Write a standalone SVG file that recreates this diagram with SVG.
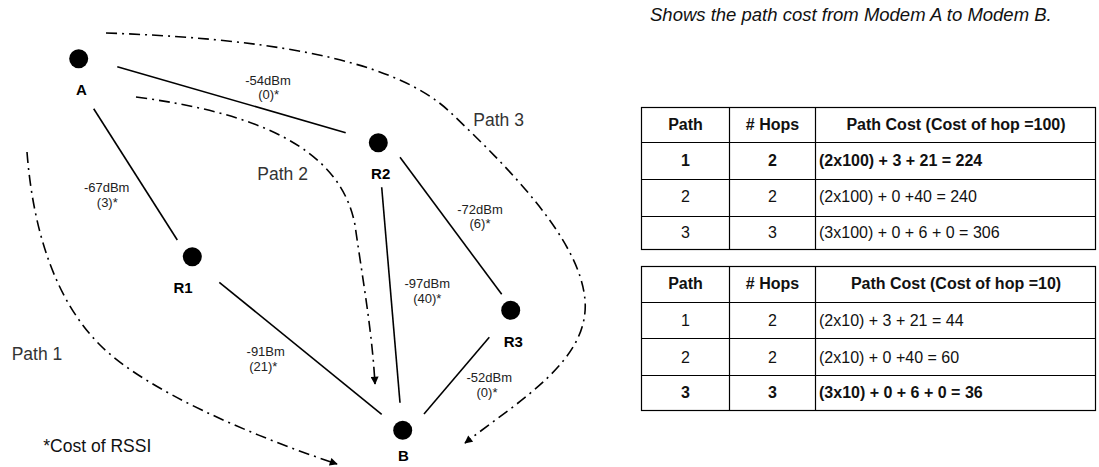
<svg xmlns="http://www.w3.org/2000/svg" width="1099" height="467" viewBox="0 0 1099 467">
<style>
.edge{stroke:#000;stroke-width:1.6;fill:none}
.path{stroke:#000;stroke-width:1.6;fill:none;stroke-dasharray:11,5,2,5}
.node{fill:#000}
.nl{font-family:"Liberation Sans",Arial,sans-serif;font-weight:bold;font-size:15px;fill:#000;text-anchor:middle}
.el{font-family:"Liberation Sans",Arial,sans-serif;font-size:13px;fill:#222;text-anchor:middle}
.pl{font-family:"Liberation Sans",Arial,sans-serif;font-size:17.5px;fill:#333}
.tl{stroke:#000;stroke-width:1.2;fill:none}
.th{font-family:"Liberation Sans",Arial,sans-serif;font-size:16px;font-weight:bold;fill:#111;text-anchor:middle}
.tc{font-family:"Liberation Sans",Arial,sans-serif;font-size:16px;fill:#111;text-anchor:middle}
.tx{font-family:"Liberation Sans",Arial,sans-serif;font-size:16px;fill:#111}
.b{font-weight:bold}
</style>
<defs>
<marker id="arr" viewBox="0 0 10 10" refX="9" refY="5" markerWidth="9" markerHeight="8" markerUnits="userSpaceOnUse" orient="auto">
<path d="M0,0 L10,5 L0,10 z" fill="#000"/>
</marker>
</defs>
<rect width="1099" height="467" fill="#fff"/>
<g id="connectors">
<line class="edge" x1="117.3" y1="66.7" x2="345.7" y2="132.7"/>
<line class="edge" x1="93.7" y1="108.7" x2="177.3" y2="240"/>
<line class="edge" x1="219.3" y1="282.3" x2="381.7" y2="414.3"/>
<line class="edge" x1="381.7" y1="187.3" x2="400" y2="402.7"/>
<line class="edge" x1="400" y1="157.3" x2="501.7" y2="294.3"/>
<line class="edge" x1="489.3" y1="337.3" x2="424" y2="414"/>
<path class="path" d="M27,152 C33,230 55,300 100,345 S250,435 337,464" marker-end="url(#arr)"/>
<path class="path" d="M136,97 C250,112 340,145 355,225 C362,275 372,330 375,384" marker-end="url(#arr)"/>
<path class="path" d="M106,33 C250,38 390,55 450,112 C510,169 580,240 585,300 C590,360 520,400 465,443" marker-end="url(#arr)"/>
</g>
<g id="edge-labels">
<text class="el" x="268" y="84.5">-54dBm</text>
<text class="el" x="268.7" y="98.5">(0)*</text>
<text class="el" x="106.7" y="192.3">-67dBm</text>
<text class="el" x="107.3" y="206.5">(3)*</text>
<text class="el" x="480" y="214">-72dBm</text>
<text class="el" x="480" y="228">(6)*</text>
<text class="el" x="427.3" y="288">-97dBm</text>
<text class="el" x="427.3" y="303">(40)*</text>
<text class="el" x="489.3" y="382">-52dBm</text>
<text class="el" x="487" y="397">(0)*</text>
<text class="el" x="265.7" y="356.3">-91Bm</text>
<text class="el" x="263.3" y="370.5">(21)*</text>
</g>
<g id="node-A"><circle class="node" cx="78.7" cy="58.7" r="9.5"/><text class="nl" x="81.3" y="94.5">A</text></g>
<g id="node-R2"><circle class="node" cx="378.3" cy="142.7" r="9.5"/><text class="nl" x="380.7" y="179.3">R2</text></g>
<g id="node-R1"><circle class="node" cx="192.3" cy="256.7" r="9.5"/><text class="nl" x="183" y="292.7">R1</text></g>
<g id="node-R3"><circle class="node" cx="510.7" cy="310.3" r="9.5"/><text class="nl" x="513.3" y="347.3">R3</text></g>
<g id="node-B"><circle class="node" cx="402.7" cy="430.3" r="9.5"/><text class="nl" x="403.3" y="461">B</text></g>
<g id="labels">
<text class="pl" x="11.7" y="360">Path 1</text>
<text class="pl" x="257.3" y="180">Path 2</text>
<text class="pl" x="473.3" y="125.5">Path 3</text>
<text class="pl" x="43.3" y="452" style="fill:#111">*Cost of RSSI</text>
<text x="650" y="21" style="font-family:'Liberation Sans',Arial,sans-serif;font-size:18.5px;font-style:italic;fill:#111">Shows the path cost from Modem A to Modem B.</text>
</g>
<g id="table-100">
<rect class="tl" x="641.5" y="107.5" width="454" height="142"/>
<line class="tl" x1="729.5" y1="107.5" x2="729.5" y2="249.5"/>
<line class="tl" x1="815.5" y1="107.5" x2="815.5" y2="249.5"/>
<line class="tl" x1="641.5" y1="142.5" x2="1095.5" y2="142.5"/>
<line class="tl" x1="641.5" y1="179.5" x2="1095.5" y2="179.5"/>
<line class="tl" x1="641.5" y1="216.5" x2="1095.5" y2="216.5"/>
<text class="th" x="685.5" y="130">Path</text>
<text class="th" x="772.5" y="130"># Hops</text>
<text class="th" x="956" y="130">Path Cost (Cost of hop =100)</text>
<text class="tc b" x="685.5" y="165.5">1</text>
<text class="tc b" x="772.5" y="165.5">2</text>
<text class="tx b" x="819" y="165.5">(2x100) + 3 + 21 = 224</text>
<text class="tc" x="685.5" y="202">2</text>
<text class="tc" x="772.5" y="202">2</text>
<text class="tx" x="819" y="202">(2x100) + 0 +40 = 240</text>
<text class="tc" x="685.5" y="238">3</text>
<text class="tc" x="772.5" y="238">3</text>
<text class="tx" x="819" y="238">(3x100) + 0 + 6 + 0 = 306</text>
</g>
<g id="table-10">
<rect class="tl" x="641.5" y="266.5" width="454" height="144"/>
<line class="tl" x1="729.5" y1="266.5" x2="729.5" y2="410.5"/>
<line class="tl" x1="815.5" y1="266.5" x2="815.5" y2="410.5"/>
<line class="tl" x1="641.5" y1="302.5" x2="1095.5" y2="302.5"/>
<line class="tl" x1="641.5" y1="338.5" x2="1095.5" y2="338.5"/>
<line class="tl" x1="641.5" y1="375.5" x2="1095.5" y2="375.5"/>
<text class="th" x="685.5" y="289">Path</text>
<text class="th" x="772.5" y="289"># Hops</text>
<text class="th" x="956" y="289">Path Cost (Cost of hop =10)</text>
<text class="tc" x="685.5" y="325.8">1</text>
<text class="tc" x="772.5" y="325.8">2</text>
<text class="tx" x="819" y="325.8">(2x10) + 3 + 21 = 44</text>
<text class="tc" x="685.5" y="362.5">2</text>
<text class="tc" x="772.5" y="362.5">2</text>
<text class="tx" x="819" y="362.5">(2x10) + 0 +40 = 60</text>
<text class="tc b" x="685.5" y="398">3</text>
<text class="tc b" x="772.5" y="398">3</text>
<text class="tx b" x="819" y="398">(3x10) + 0 + 6 + 0 = 36</text>
</g>
</svg>
